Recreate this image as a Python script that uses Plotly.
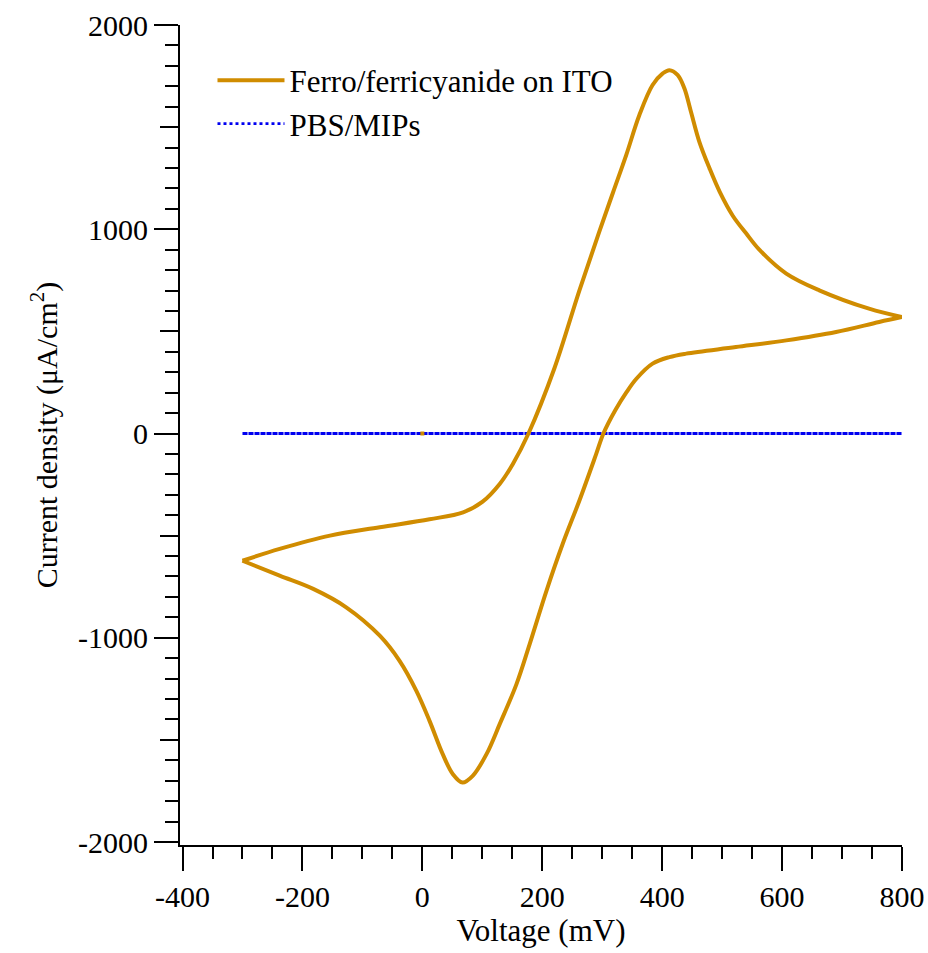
import plotly.graph_objects as go

# Ferro/ferricyanide on ITO - forward scan (-300 -> 800 mV)
fwd_v = [-300, -238, -154, -71, 12, 68, 100, 129, 151, 177, 220, 262, 295, 318, 340, 362, 384,
         401, 412, 426, 437, 448, 462, 479, 496, 518, 540, 562, 607, 662, 745, 800]
fwd_i = [-623, -565, -500, -459, -420, -386, -335, -247, -149, 0, 317, 701, 987, 1180, 1363, 1559,
         1706, 1763, 1779, 1755, 1690, 1575, 1428, 1298, 1183, 1065, 980, 900, 783, 701, 611, 570]

# reverse scan (800 -> -300 mV)
rev_v = [800, 762, 690, 607, 523, 440, 412, 384, 357, 340, 322, 302, 290, 262, 234, 207, 179, 157,
         129, 107, 84, 67, 51, 34, 12, -10, -38, -71, -127, -182, -238, -300]
rev_i = [570, 546, 497, 456, 423, 391, 374, 342, 268, 200, 115, 0, -100, -328, -541, -770, -1031,
         -1227, -1423, -1570, -1676, -1709, -1668, -1570, -1407, -1260, -1113, -990, -851, -761,
         -696, -623]

# initial point of the scan
start_v = [0]
start_i = [0]

# PBS/MIPs (flat, ~0)
pbs_v = [-300, 800, -300]
pbs_i = [0, 0, 0]

x_ticks = [-400, -200, 0, 200, 400, 600, 800]
x_labels = ["-400", "-200", "0", "200", "400", "600", "800"]
y_ticks = [-2000, -1000, 0, 1000, 2000]
y_labels = ["-2000", "-1000", "0", "1000", "2000"]
y_mid_ticks = [-1500, -500, 500, 1500]

ORANGE = "#D08C00"
BLUE = "#0000F0"
FONT = "Liberation Serif, Times New Roman, serif"

fig = go.Figure()

fig.add_trace(go.Scatter(x=pbs_v, y=pbs_i, mode="lines", name="PBS/MIPs",
                         line=dict(color=BLUE, width=2.8, dash="dot"), legendrank=2))
fig.add_trace(go.Scatter(x=fwd_v, y=fwd_i, mode="lines", name="Ferro/ferricyanide on ITO",
                         line=dict(color=ORANGE, width=4, shape="spline", smoothing=1.0),
                         legendgroup="cv", legendrank=1))
fig.add_trace(go.Scatter(x=rev_v, y=rev_i, mode="lines", name="Ferro/ferricyanide on ITO",
                         line=dict(color=ORANGE, width=4, shape="spline", smoothing=1.0),
                         legendgroup="cv", showlegend=False))
fig.add_trace(go.Scatter(x=start_v, y=start_i, mode="markers", showlegend=False,
                         marker=dict(color=ORANGE, size=4, symbol="square")))
# helper trace for the intermediate tick axis
fig.add_trace(go.Scatter(x=[None], y=[None], yaxis="y2", showlegend=False, hoverinfo="skip"))

xr = [-404.2, 800]
yr = [-2014.7, 2000]

fig.update_layout(
    template="none",
    width=928, height=953,
    margin=dict(l=180, r=26, t=25, b=108, autoexpand=False),
    paper_bgcolor="white", plot_bgcolor="white",
    font=dict(family=FONT, size=30, color="black"),
    showlegend=True,
    legend=dict(x=0.045, y=0.965, xanchor="left", yanchor="top",
                font=dict(family=FONT, size=31, color="black"),
                bgcolor="rgba(0,0,0,0)", borderwidth=0, tracegroupgap=0, itemwidth=67),
    xaxis=dict(range=xr, tickmode="array", tickvals=x_ticks, ticktext=x_labels,
               automargin=False,
               ticks="outside", ticklen=24, tickwidth=2, tickcolor="black",
               showline=True, linewidth=2, linecolor="black",
               showgrid=False, zeroline=False,
               minor=dict(dtick=50, tick0=0, ticks="outside", ticklen=12, tickwidth=2,
                          tickcolor="black", showgrid=False),
               tickfont=dict(family=FONT, size=30),
               title=dict(text="Voltage (mV)", font=dict(family=FONT, size=31), standoff=6)),
    yaxis=dict(range=yr, tickmode="array", tickvals=y_ticks, ticktext=y_labels,
               automargin=False,
               ticks="outside", ticklen=24, tickwidth=2, tickcolor="black",
               showline=True, linewidth=2, linecolor="black",
               showgrid=False, zeroline=False,
               minor=dict(dtick=100, tick0=0, ticks="outside", ticklen=13, tickwidth=2,
                          tickcolor="black", showgrid=False),
               tickfont=dict(family=FONT, size=30),
               title=dict(text="Current density (μA/cm<sup>2</sup>)",
                          font=dict(family=FONT, size=30), standoff=12)),
    yaxis2=dict(range=yr, overlaying="y", side="left", anchor="x", automargin=False,
                tickmode="array", tickvals=y_mid_ticks,
                ticks="outside", ticklen=19, tickwidth=2, tickcolor="black",
                showticklabels=False, showline=False, showgrid=False, zeroline=False),
)

fig.write_html("out.html")
